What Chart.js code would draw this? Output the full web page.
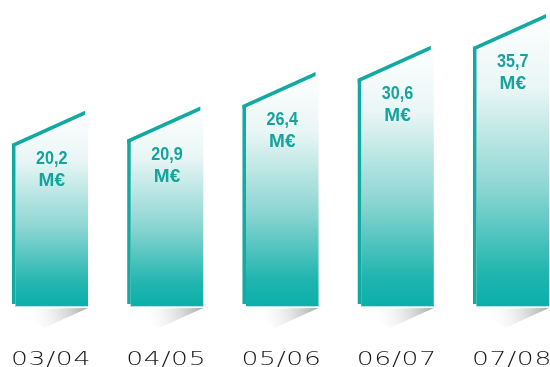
<!DOCTYPE html>
<html>
<head>
<meta charset="utf-8">
<script src="https://cdn.jsdelivr.net/npm/chart.js@4/dist/chart.umd.min.js"></script>
<style>
  body { margin: 0; background: #fff; }
  canvas { display: block; }
</style>
</head>
<body>
<canvas id="chart" width="550" height="367"></canvas>
<script>
const seasons = ["03/04", "04/05", "05/06", "06/07", "07/08"];
const revenue = [20.2, 20.9, 26.4, 30.6, 35.7];
const unit = "M€";

const teal = "#12a9a3";
const rise = 33; // slant of the bar tops

const slantBars = {
  id: "slantBars",
  afterDatasetsDraw(chart) {
    const ctx = chart.ctx;
    const bars = chart.getDatasetMeta(0).data;

    // shadows under the bars
    bars.forEach((bar) => {
      const left = bar.x - bar.width / 2;
      const right = bar.x + bar.width / 2;
      const base = bar.base;
      const g = ctx.createLinearGradient(right, base, left + 15, base + 15);
      g.addColorStop(0, "rgba(160,160,160,0.95)");
      g.addColorStop(1, "rgba(255,255,255,0)");
      ctx.fillStyle = g;
      ctx.beginPath();
      ctx.moveTo(left + 5, base + 2);
      ctx.lineTo(right, base + 1);
      ctx.lineTo(bar.x - 6, base + 21);
      ctx.closePath();
      ctx.fill();
    });

    bars.forEach((bar, i) => {
      const left = bar.x - bar.width / 2;
      const right = bar.x + bar.width / 2;
      const top = bar.y;
      const base = bar.base;
      const fl = left + 3.5;

      const g = ctx.createLinearGradient(0, top - rise, 0, base);
      g.addColorStop(0, "#ffffff");
      g.addColorStop(0.25, "#e8f6f5");
      g.addColorStop(0.6, "#8ad5d1");
      g.addColorStop(0.88, "#22b5af");
      g.addColorStop(1, "#0aafa9");
      ctx.fillStyle = g;
      ctx.beginPath();
      ctx.moveTo(fl, top + 2);
      ctx.lineTo(right, top - rise + 1);
      ctx.lineTo(right, base);
      ctx.lineTo(fl, base);
      ctx.closePath();
      ctx.fill();

      // light bottom edge
      ctx.fillStyle = "#b9e6e4";
      ctx.fillRect(fl, base - 1, right - fl, 1);

      // left border and slanted top
      ctx.fillStyle = teal;
      ctx.fillRect(left, top - 1, 3.5, base - 3 - top + 1);
      ctx.beginPath();
      ctx.moveTo(left, top - 1);
      ctx.lineTo(right - 3, top - rise - 1);
      ctx.lineTo(right - 3, top - rise + 3);
      ctx.lineTo(left, top + 3);
      ctx.closePath();
      ctx.fill();

      // value text
      const cx = (fl + right) / 2;
      const v = chart.data.datasets[0].data[i];
      ctx.save();
      ctx.fillStyle = "#16a39e";
      ctx.textAlign = "center";
      ctx.textBaseline = "middle";
      ctx.font = 'bold 19px "Liberation Sans", sans-serif';
      ctx.save();
      ctx.translate(cx, top + 14);
      ctx.scale(0.85, 1);
      ctx.fillText(v.toFixed(1).replace(".", ","), 0, 0);
      ctx.restore();
      ctx.fillText(unit, cx, top + 36);
      ctx.restore();
    });

    // season labels under the bars
    const xScale = chart.scales.x;
    ctx.save();
    ctx.fillStyle = "#1a1a1a";
    ctx.font = '300 19px "DejaVu Sans", sans-serif';
    ctx.letterSpacing = "0.5px";
    ctx.textAlign = "center";
    ctx.textBaseline = "alphabetic";
    chart.data.labels.forEach((lab, i) => {
      const x = xScale.getPixelForValue(i) + 1;
      ctx.save();
      ctx.translate(x, 365);
      ctx.scale(1.4, 1);
      ctx.fillText(lab, 0, 0);
      ctx.restore();
    });
    ctx.restore();
  },
};

new Chart(document.getElementById("chart"), {
  type: "bar",
  data: {
    labels: seasons,
    datasets: [
      {
        data: revenue,
        base: -5.8,
        backgroundColor: "rgba(0,0,0,0)",
        borderWidth: 0,
        barPercentage: 0.66,
        categoryPercentage: 1,
      },
    ],
  },
  options: {
    responsive: false,
    animation: false,
    layout: { padding: { left: 50, right: 39, top: 0, bottom: 60 } },
    plugins: { legend: { display: false }, tooltip: { enabled: false } },
    scales: {
      x: { display: false, offset: false },
      y: { display: false, min: -5.8, max: 43.4 },
    },
  },
  plugins: [slantBars],
});
</script>
</body>
</html>
